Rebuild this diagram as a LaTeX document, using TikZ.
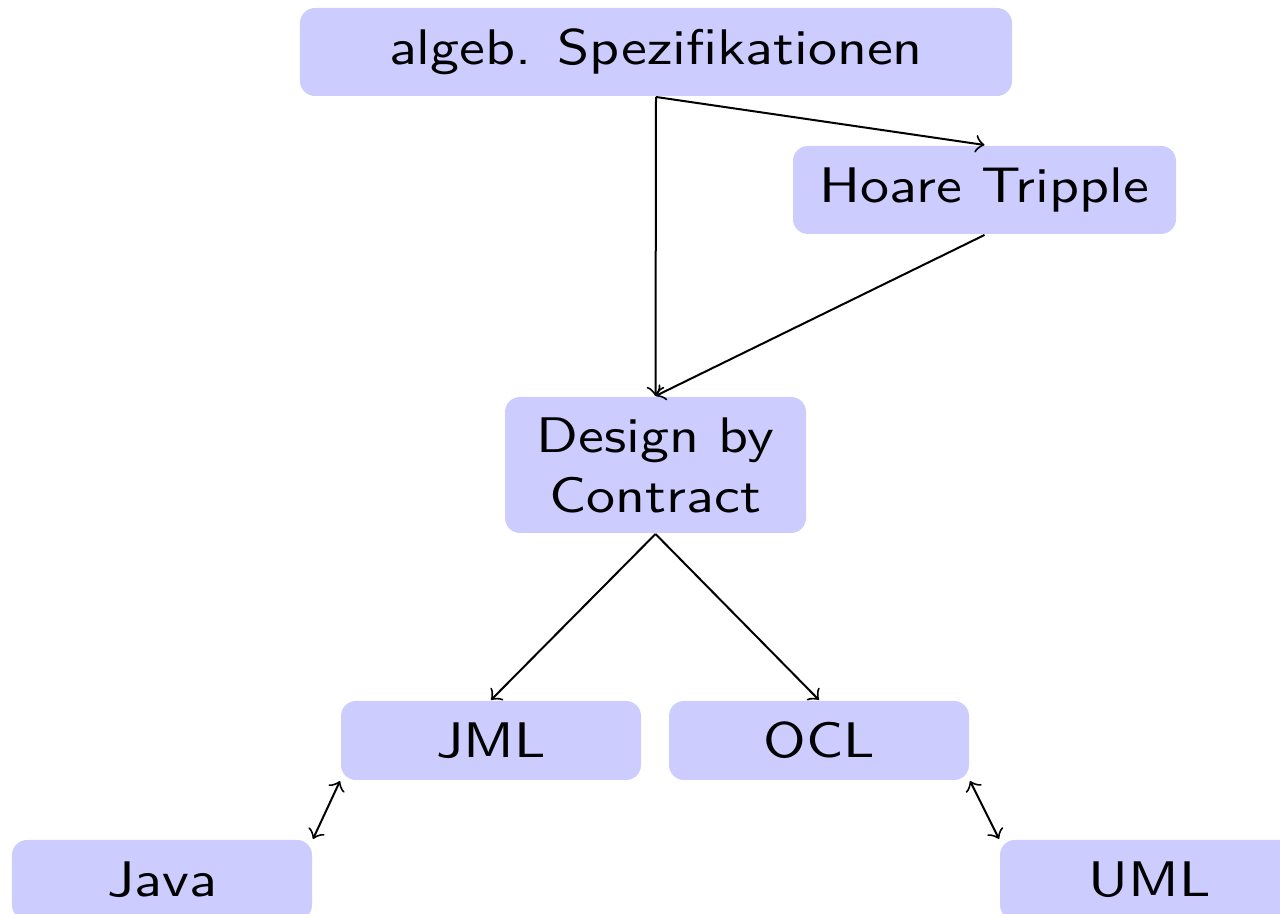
\documentclass[tikz,border=0pt]{standalone}
\usepackage{tikz}
\usepackage{graphicx}
% labels are set a little wider than the font's natural width
\newcommand{\widetext}[1]{\scalebox{1.16}[1]{#1}}
\begin{document}
\begin{tikzpicture}[x=0.2pt, y=-0.2pt,
  box/.style={fill=blue!20, rounded corners=3pt, inner sep=0pt, align=center,
    font=\sffamily},
  arr/.style={->, line width=0.4pt},
  biarr/.style={<->, line width=0.4pt}]
\useasboundingbox (0,0) rectangle (1280,914);

% nodes
\node[box, minimum width=142.4pt, minimum height=17.6pt] (alg) at (656,52) {\widetext{algeb. Spezifikationen}};
\node[box, minimum width=76.6pt, minimum height=17.6pt] (hoare) at (984.5,190) {\widetext{Hoare Tripple}};
\node[box, minimum width=60.2pt, minimum height=27.2pt] (dbc) at (655.5,465) {\widetext{Design by}\\\widetext{Contract}};
\node[box, minimum width=60pt, minimum height=15.8pt] (jml) at (491,740.5) {\widetext{JML}};
\node[box, minimum width=60pt, minimum height=15.8pt] (ocl) at (819,740.5) {\widetext{OCL}};
\node[box, minimum width=60pt, minimum height=16pt] (java) at (162,880) {\widetext{Java}};
\node[box, minimum width=60pt, minimum height=16pt] (uml) at (1150,880) {\widetext{UML}};

% connectors
\draw[arr] (alg.south) -- (dbc.north);
\draw[arr] (alg.south) -- (hoare.north);
\draw[arr] (hoare.south) -- (dbc.north);
\draw[arr] (dbc.south) -- (jml.north);
\draw[arr] (dbc.south) -- (ocl.north);
\draw[biarr] (jml.south west) -- (java.north east);
\draw[biarr] (ocl.south east) -- (uml.north west);
\end{tikzpicture}
\end{document}
